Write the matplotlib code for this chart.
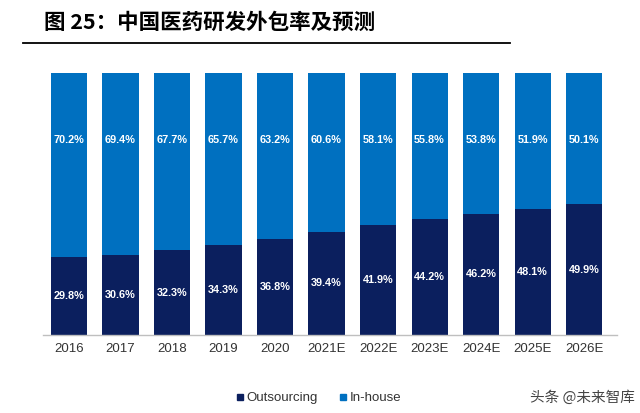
import matplotlib
matplotlib.use("Agg")
import matplotlib.pyplot as plt
from matplotlib.lines import Line2D

years = ["2016", "2017", "2018", "2019", "2020", "2021E", "2022E", "2023E", "2024E", "2025E", "2026E"]
outsourcing = [29.8, 30.6, 32.3, 34.3, 36.8, 39.4, 41.9, 44.2, 46.2, 48.1, 49.9]
inhouse = [70.2, 69.4, 67.7, 65.7, 63.2, 60.6, 58.1, 55.8, 53.8, 51.9, 50.1]
series_names = ["Outsourcing", "In-house"]

c_out = "#0b1f5e"
c_in = "#0070c0"
tick_font = ["Liberation Sans Narrow", "Liberation Sans", "DejaVu Sans"]

fig = plt.figure(figsize=(6.4, 4.13), dpi=100)
ax = fig.add_axes([43/640, 78/413, (617-43)/640, (340-78)/413])

x = list(range(len(years)))
ax.bar(x, outsourcing, width=0.7, color=c_out, edgecolor="none")
ax.bar(x, inhouse, width=0.7, bottom=outsourcing, color=c_in, edgecolor="none")
ax.set_xlim(-0.505, 10.64)
ax.set_ylim(0, 100)

for i in x:
    ax.text(i, outsourcing[i] / 2, f"{outsourcing[i]:.1f}%", ha="center", va="center",
            color="white", fontsize=7.8, fontweight="bold", family=tick_font)
    ax.text(i, 74.5, f"{inhouse[i]:.1f}%", ha="center", va="center",
            color="white", fontsize=7.8, fontweight="bold", family=tick_font)

ax.set_xticks(x)
ax.set_xticklabels(years, family=tick_font, fontsize=9.5, color="#333333")
ax.tick_params(axis="x", length=0, pad=6)
ax.set_yticks([])
for s in ["top", "right", "left"]:
    ax.spines[s].set_visible(False)
ax.spines["bottom"].set_color("#bfbfbf")
ax.spines["bottom"].set_linewidth(1)

handles = [Line2D([], [], marker="s", linestyle="none", color=c_out, markersize=4),
           Line2D([], [], marker="s", linestyle="none", color=c_in, markersize=4)]
leg = fig.legend(handles, series_names, loc="center", bbox_to_anchor=(318/640, 1 - 398/413),
                 ncol=2, frameon=False, prop={"family": tick_font, "size": 9.5},
                 handletextpad=0.1, columnspacing=1.5, handlelength=0.8)
for t in leg.get_texts():
    t.set_color("#333333")

fig.text(44/640, 1 - 22/413, "图 25：中国医药研发外包率及预测", ha="left", va="center",
         fontsize=15.5, fontweight="bold", family=["Noto Sans CJK SC", "DejaVu Sans"], color="black")
fig.add_artist(Line2D([23/640, 510/640], [1 - 43/413, 1 - 43/413], color="black", linewidth=1.3,
                      transform=fig.transFigure))

fig.text(635/640, 1 - 398/413, "头条 @未来智库", ha="right", va="center", fontsize=10.5,
         family=["Noto Sans CJK SC", "DejaVu Sans"], color="#444444")

fig.savefig("out.png", dpi=100)
